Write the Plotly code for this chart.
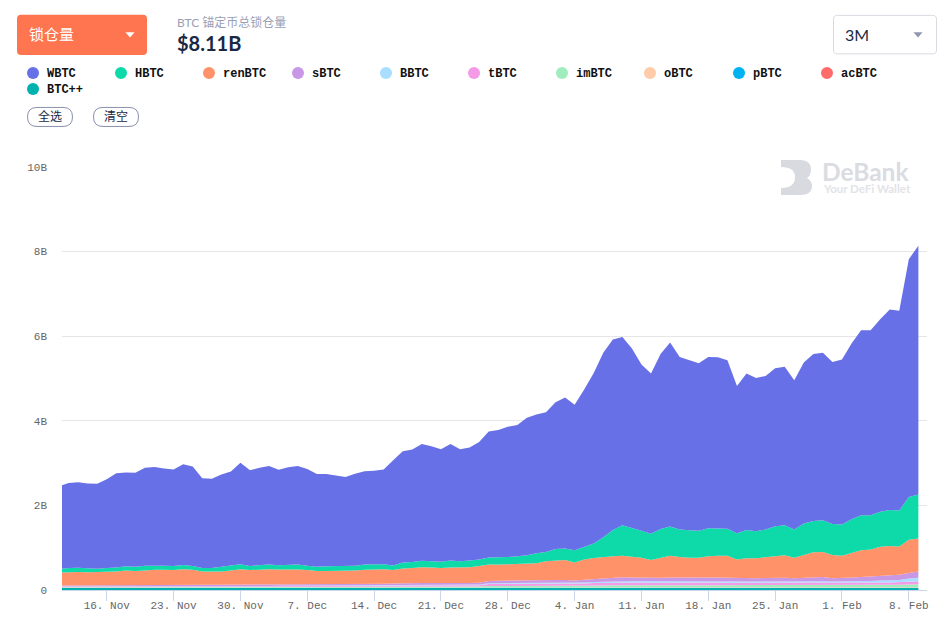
#%%
import pandas as pd
import plotly.graph_objects as go

# === Values (in billions, one row per day) ===
total = [2.45, 2.53, 2.55, 2.52, 2.51, 2.62, 2.76, 2.78, 2.77, 2.89, 2.91, 2.87, 2.85, 2.97, 2.92, 2.64, 2.63, 2.73, 2.80, 3.01,
         2.83, 2.89, 2.93, 2.84, 2.90, 2.93, 2.86, 2.74, 2.74, 2.71, 2.67, 2.75, 2.81, 2.82, 2.85, 3.07, 3.28, 3.32, 3.45, 3.40,
         3.33, 3.45, 3.33, 3.37, 3.50, 3.75, 3.78, 3.86, 3.90, 4.07, 4.15, 4.20, 4.44, 4.55, 4.38, 4.74, 5.13, 5.61, 5.92, 5.98,
         5.71, 5.33, 5.12, 5.58, 5.85, 5.51, 5.43, 5.36, 5.51, 5.50, 5.43, 4.82, 5.12, 5.01, 5.06, 5.24, 5.28, 4.96, 5.38, 5.58,
         5.61, 5.39, 5.45, 5.83, 6.14, 6.14, 6.40, 6.63, 6.60, 7.82, 8.14]
hbtc_top = [0.49, 0.52, 0.525, 0.51, 0.505, 0.52, 0.53, 0.56, 0.55, 0.575, 0.58, 0.575,
            0.57, 0.59, 0.57, 0.52, 0.52, 0.55, 0.57, 0.61, 0.57, 0.585, 0.60, 0.585, 0.60, 0.60, 0.575, 0.55,
            0.56, 0.56, 0.56, 0.575, 0.60, 0.61, 0.61, 0.58, 0.65, 0.66, 0.69, 0.68, 0.67, 0.70, 0.68, 0.70, 0.72, 0.77,
            0.77, 0.78, 0.80, 0.82, 0.87, 0.90, 0.97, 0.98, 0.94, 1.02, 1.10, 1.25, 1.42, 1.53,
            1.47, 1.40, 1.33, 1.44, 1.50, 1.43, 1.41, 1.40, 1.46, 1.46, 1.45, 1.34, 1.42, 1.39, 1.43, 1.51,
            1.53, 1.43, 1.57, 1.63, 1.65, 1.56, 1.55, 1.67, 1.77, 1.77, 1.85, 1.89, 1.88, 2.20, 2.26]
ren_top = [0.41, 0.425, 0.425, 0.42, 0.42, 0.425, 0.435, 0.46, 0.45, 0.46, 0.48, 0.48, 0.47, 0.49,
           0.48, 0.435, 0.435, 0.44, 0.46, 0.49, 0.47, 0.485, 0.49, 0.485, 0.49, 0.485, 0.47, 0.45,
           0.45, 0.45, 0.45, 0.46, 0.48, 0.49, 0.49, 0.47, 0.51, 0.52, 0.535, 0.53, 0.52, 0.53, 0.53, 0.54, 0.565, 0.60,
           0.60, 0.61, 0.615, 0.62, 0.63, 0.68, 0.70, 0.71, 0.65, 0.72, 0.755, 0.78, 0.80, 0.81,
           0.79, 0.76, 0.71, 0.76, 0.81, 0.78, 0.76, 0.76, 0.80, 0.81, 0.81, 0.72, 0.75, 0.75, 0.78, 0.80,
           0.82, 0.76, 0.83, 0.89, 0.90, 0.83, 0.81, 0.87, 0.94, 0.96, 1.02, 1.04, 1.03, 1.19, 1.22]
sbtc = [0.024, 0.025, 0.025, 0.025, 0.026, 0.026, 0.027, 0.028, 0.028, 0.029,
        0.029, 0.03, 0.03, 0.031, 0.031, 0.029, 0.029, 0.03, 0.03, 0.031,
        0.03, 0.03, 0.031, 0.031, 0.032, 0.033, 0.032, 0.03, 0.03, 0.03,
        0.03, 0.031, 0.032, 0.033, 0.034, 0.036, 0.04, 0.041, 0.042, 0.04,
        0.038, 0.038, 0.037, 0.038, 0.042, 0.05, 0.058, 0.058, 0.058, 0.056,
        0.055, 0.056, 0.06, 0.062, 0.055, 0.062, 0.07, 0.08, 0.088, 0.092,
        0.09, 0.085, 0.08, 0.085, 0.09, 0.088, 0.086, 0.085, 0.088, 0.088,
        0.085, 0.078, 0.08, 0.08, 0.082, 0.084, 0.085, 0.08, 0.09, 0.1,
        0.1, 0.08, 0.08, 0.09, 0.1, 0.105, 0.115, 0.125, 0.125, 0.13, 0.145]
bbtc = [0.004, 0.004, 0.004, 0.004, 0.004, 0.005, 0.005, 0.005, 0.005, 0.005,
        0.006, 0.006, 0.006, 0.007, 0.007, 0.006, 0.006, 0.007, 0.007, 0.008,
        0.008, 0.008, 0.008, 0.009, 0.009, 0.009, 0.009, 0.009, 0.009, 0.009,
        0.012, 0.012, 0.012, 0.012, 0.013, 0.013, 0.014, 0.014, 0.014, 0.014,
        0.014, 0.014, 0.015, 0.015, 0.016, 0.02, 0.02, 0.02, 0.02, 0.02,
        0.021, 0.021, 0.022, 0.022, 0.021, 0.023, 0.025, 0.027, 0.029, 0.03,
        0.03, 0.03, 0.029, 0.03, 0.031, 0.03, 0.03, 0.03, 0.03, 0.03,
        0.03, 0.029, 0.03, 0.03, 0.03, 0.03, 0.031, 0.03, 0.032, 0.036,
        0.04, 0.04, 0.04, 0.042, 0.045, 0.046, 0.048, 0.05, 0.05, 0.075, 0.085]
tbtc = [0.01, 0.01, 0.01, 0.01, 0.011, 0.011, 0.012, 0.012, 0.012, 0.013,
        0.013, 0.014, 0.014, 0.015, 0.015, 0.014, 0.014, 0.015, 0.016, 0.016,
        0.017, 0.017, 0.018, 0.018, 0.019, 0.02, 0.02, 0.02, 0.021, 0.022,
        0.025, 0.026, 0.027, 0.028, 0.028, 0.03, 0.032, 0.032, 0.033, 0.032,
        0.032, 0.033, 0.033, 0.034, 0.035, 0.05, 0.05, 0.05, 0.05, 0.05,
        0.05, 0.052, 0.055, 0.055, 0.05, 0.055, 0.06, 0.062, 0.064, 0.065,
        0.065, 0.064, 0.06, 0.062, 0.064, 0.062, 0.062, 0.06, 0.062, 0.062,
        0.06, 0.055, 0.056, 0.056, 0.058, 0.06, 0.06, 0.055, 0.056, 0.055,
        0.05, 0.04, 0.04, 0.042, 0.045, 0.048, 0.052, 0.055, 0.06, 0.065, 0.07]
imbtc = [0.014, 0.014, 0.014, 0.014, 0.015, 0.015, 0.015, 0.015, 0.016, 0.016,
         0.016, 0.016, 0.016, 0.017, 0.017, 0.016, 0.016, 0.017, 0.017, 0.017,
         0.017, 0.017, 0.017, 0.018, 0.018, 0.018, 0.018, 0.018, 0.018, 0.019,
         0.02, 0.02, 0.02, 0.021, 0.021, 0.021, 0.022, 0.022, 0.023, 0.023,
         0.023, 0.024, 0.024, 0.024, 0.025, 0.035, 0.035, 0.035, 0.036, 0.036,
         0.036, 0.037, 0.038, 0.038, 0.037, 0.04, 0.042, 0.045, 0.048, 0.05,
         0.05, 0.05, 0.049, 0.05, 0.05, 0.05, 0.05, 0.05, 0.05, 0.05,
         0.05, 0.05, 0.05, 0.05, 0.05, 0.052, 0.052, 0.052, 0.054, 0.055,
         0.055, 0.055, 0.055, 0.055, 0.056, 0.057, 0.058, 0.059, 0.06, 0.065, 0.07]
obtc = [0.003, 0.003, 0.003, 0.003, 0.003, 0.003, 0.003, 0.003, 0.003, 0.003,
        0.003, 0.003, 0.003, 0.003, 0.003, 0.003, 0.003, 0.003, 0.003, 0.004,
        0.004, 0.004, 0.004, 0.004, 0.004, 0.004, 0.004, 0.004, 0.004, 0.004,
        0.005, 0.005, 0.005, 0.005, 0.005, 0.005, 0.006, 0.006, 0.006, 0.006,
        0.006, 0.006, 0.006, 0.006, 0.006, 0.008, 0.008, 0.008, 0.008, 0.009,
        0.009, 0.009, 0.01, 0.01, 0.01, 0.01, 0.011, 0.011, 0.012, 0.012,
        0.012, 0.012, 0.012, 0.012, 0.012, 0.012, 0.012, 0.012, 0.012, 0.012,
        0.012, 0.012, 0.012, 0.012, 0.012, 0.012, 0.012, 0.012, 0.012, 0.012,
        0.012, 0.012, 0.012, 0.013, 0.013, 0.013, 0.014, 0.014, 0.014, 0.015, 0.015]
pbtc = [0.003, 0.003, 0.003, 0.003, 0.003, 0.003, 0.003, 0.003, 0.003, 0.003,
        0.003, 0.003, 0.003, 0.003, 0.003, 0.003, 0.003, 0.003, 0.003, 0.003,
        0.003, 0.003, 0.003, 0.003, 0.003, 0.003, 0.003, 0.003, 0.003, 0.003,
        0.003, 0.003, 0.003, 0.003, 0.003, 0.003, 0.003, 0.003, 0.003, 0.003,
        0.003, 0.003, 0.003, 0.003, 0.003, 0.003, 0.003, 0.003, 0.003, 0.003,
        0.004, 0.004, 0.004, 0.004, 0.004, 0.004, 0.004, 0.004, 0.004, 0.004,
        0.004, 0.004, 0.004, 0.004, 0.004, 0.004, 0.004, 0.004, 0.004, 0.004,
        0.004, 0.004, 0.004, 0.004, 0.004, 0.004, 0.004, 0.004, 0.004, 0.004,
        0.004, 0.004, 0.004, 0.004, 0.004, 0.004, 0.004, 0.004, 0.004, 0.005, 0.005]
acbtc = [0.001, 0.001, 0.001, 0.001, 0.001, 0.001, 0.001, 0.001, 0.001, 0.001,
         0.001, 0.001, 0.001, 0.001, 0.001, 0.001, 0.001, 0.001, 0.001, 0.001,
         0.001, 0.001, 0.001, 0.001, 0.001, 0.001, 0.001, 0.001, 0.001, 0.001,
         0.001, 0.001, 0.001, 0.001, 0.001, 0.001, 0.001, 0.001, 0.001, 0.001,
         0.001, 0.001, 0.001, 0.001, 0.001, 0.001, 0.001, 0.001, 0.001, 0.001,
         0.001, 0.001, 0.001, 0.001, 0.001, 0.001, 0.001, 0.001, 0.001, 0.001,
         0.001, 0.001, 0.001, 0.001, 0.001, 0.001, 0.001, 0.001, 0.001, 0.001,
         0.001, 0.001, 0.001, 0.001, 0.001, 0.001, 0.001, 0.001, 0.001, 0.001,
         0.001, 0.001, 0.001, 0.001, 0.001, 0.001, 0.001, 0.001, 0.001, 0.001, 0.001]
btcpp = [0.045, 0.045, 0.045, 0.045, 0.045, 0.045, 0.045, 0.045, 0.045, 0.045,
         0.045, 0.045, 0.045, 0.045, 0.045, 0.045, 0.045, 0.045, 0.045, 0.045,
         0.045, 0.045, 0.045, 0.045, 0.045, 0.045, 0.045, 0.045, 0.045, 0.045,
         0.045, 0.045, 0.045, 0.045, 0.045, 0.045, 0.045, 0.045, 0.045, 0.045,
         0.045, 0.045, 0.045, 0.045, 0.045, 0.045, 0.045, 0.045, 0.045, 0.045,
         0.046, 0.046, 0.046, 0.046, 0.046, 0.046, 0.046, 0.046, 0.046, 0.046,
         0.046, 0.046, 0.046, 0.046, 0.046, 0.046, 0.046, 0.046, 0.046, 0.046,
         0.046, 0.046, 0.046, 0.046, 0.046, 0.046, 0.046, 0.046, 0.046, 0.046,
         0.046, 0.046, 0.046, 0.046, 0.046, 0.046, 0.046, 0.046, 0.046, 0.046, 0.046]

df = pd.DataFrame({"total": total, "hbtc_top": hbtc_top, "ren_top": ren_top, "sBTC": sbtc, "BBTC": bbtc, "tBTC": tbtc,
                   "imBTC": imbtc, "oBTC": obtc, "pBTC": pbtc, "acBTC": acbtc, "BTC++": btcpp},
                  index=pd.date_range("2020-11-11", periods=91, freq="D"))
small = ["sBTC", "BBTC", "tBTC", "imBTC", "oBTC", "pBTC", "acBTC", "BTC++"]
df["WBTC"] = df["total"] - df["hbtc_top"]
df["HBTC"] = df["hbtc_top"] - df["ren_top"]
df["renBTC"] = df["ren_top"] - df[small].sum(axis=1)

# %%
# === Pixel helpers: the page chrome is placed in window pixels ===
LEFT, RIGHT, TOP, BOTTOM = 62, 927, 167, 589.6

def px(x):
    return (x - LEFT) / (RIGHT - LEFT)

def py(y):
    return (BOTTOM - y) / (BOTTOM - TOP)

def label(x, y, text, size, color, family="Lato, Noto Sans CJK SC", anchor="left"):
    return dict(x=px(x), y=py(y), xref="paper", yref="paper", text=text, showarrow=False, xanchor=anchor,
                yanchor="middle", font=dict(size=size, color=color, family=family))

def rounded(x0, y0, x1, y1, r):
    p = f"M{px(x0 + r)},{py(y0)} L{px(x1 - r)},{py(y0)} Q{px(x1)},{py(y0)} {px(x1)},{py(y0 + r)} "
    p += f"L{px(x1)},{py(y1 - r)} Q{px(x1)},{py(y1)} {px(x1 - r)},{py(y1)} L{px(x0 + r)},{py(y1)} "
    p += f"Q{px(x0)},{py(y1)} {px(x0)},{py(y1 - r)} L{px(x0)},{py(y0 + r)} Q{px(x0)},{py(y0)} {px(x0 + r)},{py(y0)} Z"
    return p

def box(x0, y0, x1, y1, r, fill, line=None):
    return dict(type="path", path=rounded(x0, y0, x1, y1, r), xref="paper", yref="paper", fillcolor=fill,
                line=dict(color=line, width=1) if line else dict(width=0))

def triangle(cx, y0, y1, color):
    path = f"M{px(cx - 4.5)},{py(y0)} L{px(cx + 4.5)},{py(y0)} L{px(cx)},{py(y1)} Z"
    return dict(type="path", path=path, xref="paper", yref="paper", fillcolor=color, line=dict(width=0))

# %%
# === Series ===
colors = {"WBTC": "#6770E6", "HBTC": "#0DD9A9", "renBTC": "#FF9269", "sBTC": "#C897E6", "BBTC": "#A8DEFF",
          "tBTC": "#F59AE6", "imBTC": "#A0ECBD", "oBTC": "#FFCBA8", "pBTC": "#00B2F0", "acBTC": "#FF6B6B",
          "BTC++": "#00B2AF"}
names = list(colors)

traces = []
for name in reversed(names):  # first legend entry sits on top of the stack
    traces.append(go.Scatter(x=df.index, y=df[name], name=name, mode="lines", stackgroup="one",
                             line=dict(width=0, color=colors[name]), fillcolor=colors[name], hoverinfo="x+y+name"))

shapes = [box(17, 15, 147, 55, 4, "#FF7550"), triangle(130, 32.5, 37.5, "#FFFFFF"),
          box(833.5, 15.5, 936.5, 54, 4, "#FFFFFF", "#D8DAE0"), triangle(918, 32.5, 37.5, "#8F96AE"),
          box(27.5, 107.5, 72.5, 126.5, 9.5, "#FFFFFF", "#8A90AC"), box(93.5, 107.5, 138.5, 126.5, 9.5, "#FFFFFF", "#8A90AC")]
annotations = [label(26.5, 34.5, "锁仓量", 15, "#FFFFFF"),
               label(175, 22.5, "BTC 锚定币总锁仓量", 12, "#9BA0B5"),
               label(175, 43, "<b>$8.11B</b>", 20, "#192945"),
               label(843, 35, "3M", 16, "#192945"),
               label(50, 117, "全选", 12, "#192945", anchor="center"),
               label(116, 117, "清空", 12, "#192945", anchor="center"),
               label(820, 171, "<b>DeBank</b>", 24.5, "#DADCE2"),
               label(821, 188.5, "<b>Your DeFi Wallet</b>", 11.5, "#E2E4E8")]

# Legend row, drawn by hand because the columns are fixed
legend_x = [33, 121, 209, 298, 386, 474, 562, 650, 739, 827, 33]
for i, name in enumerate(names):
    y = 73 if i < 10 else 89
    x = legend_x[i]
    shapes.append(dict(type="circle", xref="paper", yref="paper", x0=px(x - 6), x1=px(x + 6), y0=py(y + 6), y1=py(y - 6),
                       fillcolor=colors[name], line=dict(width=0)))
    annotations.append(label(x + 12, y + 1, f"<b>{name}</b>", 12, "#111111", family="Liberation Mono"))

# Watermark logo
logo = f"M{px(781)},{py(160)} L{px(800)},{py(160)} Q{px(811)},{py(160)} {px(811)},{py(170)} Q{px(811)},{py(175)} {px(807)},{py(178)} "
logo += f"Q{px(812)},{py(181)} {px(812)},{py(186)} Q{px(812)},{py(195)} {px(800)},{py(195)} L{px(781)},{py(195)} L{px(781)},{py(188)} "
logo += f"Q{px(795)},{py(188)} {px(795)},{py(177)} Q{px(795)},{py(167)} {px(781)},{py(167)} Z"
shapes.append(dict(type="path", path=logo, xref="paper", yref="paper", fillcolor="#D8DADF", line=dict(width=0)))

ticks = ["2020-11-16", "2020-11-23", "2020-11-30", "2020-12-07", "2020-12-14", "2020-12-21", "2020-12-28",
         "2021-01-04", "2021-01-11", "2021-01-18", "2021-01-25", "2021-02-01", "2021-02-08"]
tick_text = ["16. Nov", "23. Nov", "30. Nov", "7. Dec", "14. Dec", "21. Dec", "28. Dec",
             "4. Jan", "11. Jan", "18. Jan", "25. Jan", "1. Feb", "8. Feb"]

fig = go.Figure(
    data=traces,
    layout=go.Layout(
        width=940,
        height=630,
        showlegend=False,
        hovermode="x",
        plot_bgcolor="white",
        paper_bgcolor="white",
        margin=dict(l=LEFT, r=940 - RIGHT, t=TOP, b=630 - BOTTOM, pad=0, autoexpand=False),
        shapes=shapes,
        annotations=annotations,
        xaxis=dict(
            range=["2020-11-11 07:30", "2021-02-09 21:40"],
            tickmode="array", tickvals=ticks, ticktext=tick_text,
            showgrid=False, zeroline=False, showline=True, linecolor="#CCD6EB", linewidth=1,
            ticks="outside", ticklen=10, tickcolor="#CCD6EB", tickwidth=1, tickangle=0, ticklabelstandoff=-5,
            tickfont=dict(family="Liberation Mono", size=11, color="#666666")
        ),
        yaxis=dict(
            range=[0, 10],
            tickmode="array", tickvals=[0, 2, 4, 6, 8, 10], ticktext=["0", "2B", "4B", "6B", "8B", "10B"],
            showgrid=True, gridcolor="#E6E6E6", gridwidth=1, zeroline=False, showline=False,
            ticks="", ticklabelstandoff=14,
            tickfont=dict(family="Liberation Mono", size=11, color="#666666")
        )
    )
)

fig.write_html("out.html", config=dict(displayModeBar=False), post_script="document.body.style.margin='0';")
